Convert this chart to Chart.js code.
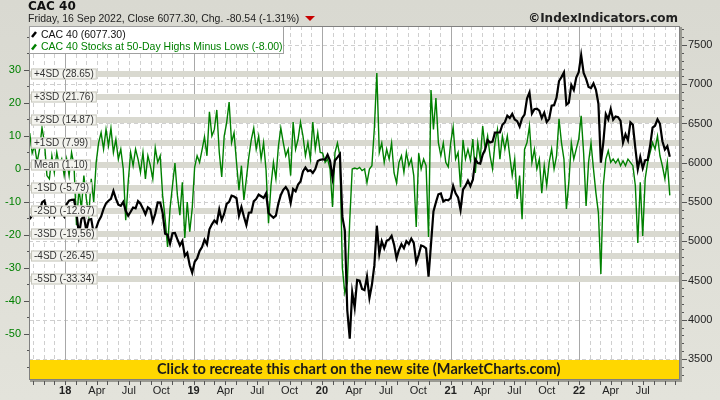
<!DOCTYPE html>
<html><head><meta charset="utf-8">
<script src="https://cdn.jsdelivr.net/npm/chart.js"></script>
<style>
html,body{margin:0;padding:0}
body{width:720px;height:400px;overflow:hidden;position:relative;background:linear-gradient(#d9d9d1,#e3e3db)}
#c{position:absolute;left:0;top:0}
#title{position:absolute;left:28px;top:0;font:bold 12px/12px "DejaVu Sans";color:#111;white-space:nowrap}
#sub{position:absolute;left:28px;top:12.6px;font:10.5px/10.5px "Liberation Sans";color:#222;white-space:nowrap}
#tri{display:inline-block;width:0;height:0;margin-left:6px;border-left:5px solid transparent;border-right:5px solid transparent;border-top:5px solid #c80000;vertical-align:1px}
#copy{position:absolute;right:42px;top:12px;font:bold 12px/12px "DejaVu Sans";color:#222;white-space:nowrap}
</style></head>
<body>
<canvas id="c" width="720" height="400"></canvas>
<div id="title">CAC 40</div>
<div id="sub">Friday, 16 Sep 2022, Close 6077.30, Chg. -80.54 (-1.31%)<span id="tri"></span></div>
<div id="copy">©IndexIndicators.com</div>
<script>
// ---------- DATA (weekly, Fridays, starting 2017-09-22) ----------
const firstWeek = '2017-09-22';
const cacClose = [
 5282,5330, 5360,5360,5370,5494, 5517,5380,5319,5391, 5316,5399,5349,5353,5313,
 5471,5517,5527,5529, 5364,5079,5283,5317, 5136,5275,5282,5095,5167, 5258,5315,5413,5483, 5516,5541,5640,5542, 5465,5450,5501,5387,5324, 5375,5429,5419,5511, 5478,5415,5344,5432,5406, 5252,5352,5494,5493, 5359,5095,5084,4967, 5102,5106,5025,4947,5003, 4813,4853,4694,4600,
 4737,4781,4875,4926, 5019,4961,5153,5215, 5265,5231,5405,5269,5350, 5476,5502,5580,5569, 5548,5327,5438,5316,5208, 5364,5367,5508,5539, 5594,5573,5552,5610, 5359,5327,5300,5326,5480, 5590,5655,5690,5640, 5488,5665,5636,5722, 5762,5889,5939,5893,5905, 5871,5919,6021,6037,
 6044,6037,6101,6024,5806, 6029,6069,6111,5310, 5140,4118,3760,4351, 4154,4507,4499,4393, 4378,4550,4277,4445,4695, 5198,4839,5001,4910, 5007,5022,5069,4957,4784, 4889,4962,4911,5002, 4965,5034,4978,4730, 4824,4947,4935,4909,4550, 4960,5380,5495,5598, 5609,5507,5528,5522,
 5551,5707,5611,5559,5399, 5659,5704,5773,5703, 5783,6046,5997,5989, 6103,6169,6288,6258,6269, 6385,6385,6386,6484, 6516,6600,6569,6622, 6552,6530,6460,6568,6613, 6817,6896,6626,6681, 6689,6663,6570,6638, 6518,6560,6727,6733,6830, 7041,7091,7150,6739, 6765,6991,6927,7086,7153,
 7370,7143,7068,6965, 6951,7011,6929,6752, 6000,6260,6620,6553, 6684,6548,6590,6581,6533, 6258,6362,6285,6516, 6485,6187,5920,6073, 5931,6033,6036,6216,6449, 6472,6553,6496,6274, 6168,6212,6077.30
];
const highsMinusLows = [
 10.9,4.8, 7,2,6,12.5, 8,-2,-3,4, -1,5,1,3,-2,
 3,-2,5,1, -17,-6,-12,-2, -9,-14,-3,-10,2, 8,11,6,12, 7,12.4,5,9, 3,6,0,-15.5,-4, 5,1,6,3, -1,5,-3,4,1, -3,6.4,2,4, -8,-15,-23.6,-12, -5,1.8,-8,-14,-4, -20.9,-10,-19,-12,
 0.6,4,2,5.8, 9.7,4,17.3,10, 12,17.9,5,-2.4,10, 14,20.3,8,11, 2,-6.4,1,-9.4,-3, 3.6,8.8,12.4,6, 10,3,8,-0.3, -16.4,-5,2,-3,6.7, 12.4,8,4,6, -2,14.2,6,9, 14.2,10,4,8,3, 14.2,6,11,5,
 4.8,2,3,0,-11.5, 5,7.9,4,-30, -37.6,-34.5,-15.5,0, 0.3,0,0.5,-0.5, 0,-4.2,0,1,12.4, 29.1,5,7.9,2, 6,3,7.9,-1.2,-4.2, 2,4,-1,5, 1,3,-2,-17.6, 4.8,0,3,1,-20.6, 23.9,12,21.5,8, 4,7.9,2,0.6,
 7.9,12.7,3,5,-5.5, 8.8,3,6,2.7, 9.1,-1.2,8,3, 13,6,10,4,0, 8,12,3,10, 6,10,4,-2, 3,-9.1,-2,-15.2,6, 8,13,2,6, 0,3,-7.3,1, -5,2,6.1,0,4, 15.2,8,3,-12.1, -4,7.9,3,6,9,
 16.1,4.8,-11.2,2, 7.9,0,-7.3,-13.3, -31.8,-5,3,5.5, 2,3,1.8,3,1, 2.5,1,3,2, 1,-5,-22.4,-4, -20.3,-3,2,5,8, 6,10,4,0.9, -3,2,-8
];
const sdValues = [28.65, 21.76, 14.87, 7.99, 1.10, -5.79, -12.67, -19.56, -26.45, -33.34];
const sdNames  = ['+4SD','+3SD','+2SD','+1SD','Mean','-1SD','-2SD','-3SD','-4SD','-5SD'];
const leftTicks  = [30, 20, 10, 0, -10, -20, -30, -40, -50];
const rightTicks = [7500, 7000, 6500, 6000, 5500, 5000, 4500, 4000, 3500];
const monthNames = ['Jan','Feb','Mar','Apr','May','Jun','Jul','Aug','Sep','Oct','Nov','Dec'];
const seriesNames = ['CAC 40', 'CAC 40 Stocks at 50-Day Highs Minus Lows'];
const bannerText = 'Click to recreate this chart on the new site (MarketCharts.com)';

// ---------- helpers ----------
const DAY = 86400000;
const EPOCH = Date.UTC(2018, 0, 1);
const dayOf = (y, m, d) => (Date.UTC(y, m, d) - EPOCH) / DAY;
const fw = firstWeek.split('-').map(Number);
const firstDay = dayOf(fw[0], fw[1] - 1, fw[2]);
const xMin = -103, xMax = 1748;

const cacPts = cacClose.map((v, i) => ({x: firstDay + 7 * i, y: v}));
const hmlPts = highsMinusLows.map((v, i) => ({x: firstDay + 7 * i, y: v}));

const months = [];
for (let y = 2017; y <= 2022; y++) for (let m = 0; m < 12; m++) {
  const d = dayOf(y, m, 1);
  if (d >= xMin && d <= xMax) months.push({d, y, m});
}
const labelTicks = months.filter(o => o.m % 3 === 0 && o.d >= 0 && !(o.y === 2022 && o.m > 6));
const labelOf = {};
labelTicks.forEach(o => labelOf[o.d] = o.m === 0 ? String(o.y).slice(2) : monthNames[o.m]);

function fitSize(ctx, text, family, weight, target) {
  ctx.font = weight + ' 20px ' + family;
  return 20 * target / ctx.measureText(text).width;
}

const decor = {
  id: 'decor',
  beforeDatasetsDraw(chart) {
    const {ctx, chartArea: a, scales} = chart;
    ctx.save();
    ctx.fillStyle = '#ffffff';
    ctx.fillRect(a.left, a.top, a.right - a.left, a.bottom - a.top);
    ctx.lineWidth = 1;
    ctx.strokeStyle = '#cfcfcf';
    ctx.setLineDash([4, 3]);
    rightTicks.forEach(v => {
      const y = Math.round(scales.y1.getPixelForValue(v)) + 0.5;
      ctx.beginPath(); ctx.moveTo(a.left, y); ctx.lineTo(a.right, y); ctx.stroke();
    });
    months.forEach(o => {
      if (o.m === 0) return;
      const x = Math.round(scales.x.getPixelForValue(o.d)) + 0.5;
      ctx.beginPath(); ctx.moveTo(x, a.top); ctx.lineTo(x, a.bottom); ctx.stroke();
    });
    ctx.setLineDash([]);
    ctx.strokeStyle = '#a8a8a8';
    months.forEach(o => {
      if (o.m !== 0) return;
      const x = Math.round(scales.x.getPixelForValue(o.d)) + 0.5;
      ctx.beginPath(); ctx.moveTo(x, a.top); ctx.lineTo(x, a.bottom); ctx.stroke();
    });
    ctx.fillStyle = '#d9d9d0';
    sdValues.forEach(v => {
      const y = scales.y.getPixelForValue(v);
      ctx.fillRect(a.left, Math.round(y) - 3, a.right - a.left, 6);
    });
    ctx.restore();
  },
  afterDatasetsDraw(chart) {
    const {ctx, chartArea: a, scales} = chart;
    ctx.save();
    ctx.font = '10px "Liberation Sans"';
    ctx.textBaseline = 'middle';
    sdValues.forEach((v, i) => {
      const y = Math.round(scales.y.getPixelForValue(v));
      const t = sdNames[i] + ' (' + v.toFixed(2) + ')';
      const w = ctx.measureText(t).width;
      ctx.fillStyle = '#f3f3ee';
      ctx.fillRect(a.left + 2, y - 5.5, w + 6, 11);
      ctx.strokeStyle = '#c6c6bc';
      ctx.lineWidth = 1;
      ctx.strokeRect(a.left + 2.5, y - 5, w + 5, 10);
      ctx.fillStyle = '#333';
      ctx.fillText(t, a.left + 5, y + 0.5);
    });
    const bTop = 360;
    ctx.fillStyle = '#ffd700';
    ctx.fillRect(a.left, bTop, a.right - a.left, a.bottom - bTop);
    const bs = fitSize(ctx, bannerText, 'Lato', 'bold', 404);
    ctx.font = 'bold ' + bs.toFixed(2) + 'px Lato';
    ctx.fillStyle = '#1a1a1a';
    ctx.textAlign = 'left';
    ctx.textBaseline = 'alphabetic';
    ctx.fillText(bannerText, 157, 374);
    ctx.strokeStyle = '#808080';
    ctx.lineWidth = 1;
    ctx.strokeRect(a.left + 0.5, a.top + 0.5, a.right - a.left - 1, a.bottom - a.top);
    ctx.strokeStyle = '#9a9a92';
    ctx.lineWidth = 2;
    ctx.beginPath(); ctx.moveTo(a.right + 1, a.top + 1); ctx.lineTo(a.right + 1, a.bottom + 2); ctx.lineTo(a.left + 1, a.bottom + 2); ctx.stroke();
    ctx.strokeStyle = '#555';
    ctx.lineWidth = 1;
    for (let v = -60; v <= 40; v += 5) {
      const y = Math.round(scales.y.getPixelForValue(v)) + 0.5;
      if (y < a.top || y > a.bottom) continue;
      const major = v % 10 === 0 && v >= -50 && v <= 30;
      ctx.beginPath(); ctx.moveTo(a.left - (major ? 5 : 2), y); ctx.lineTo(a.left, y); ctx.stroke();
    }
    for (let v = 3300; v <= 7700; v += 100) {
      const y = Math.round(scales.y1.getPixelForValue(v)) + 0.5;
      if (y < a.top || y > a.bottom) continue;
      const major = v % 500 === 0 && v >= 3500 && v <= 7500;
      ctx.beginPath(); ctx.moveTo(a.right + 2, y); ctx.lineTo(a.right + (major ? 7 : 4), y); ctx.stroke();
    }
    months.forEach(o => {
      const x = Math.round(scales.x.getPixelForValue(o.d)) + 0.5;
      ctx.beginPath(); ctx.moveTo(x, a.bottom + 2); ctx.lineTo(x, a.bottom + 6); ctx.stroke();
    });
    const lx = a.left, ly = a.top, lw = 254, lh = 27;
    ctx.fillStyle = '#ffffff';
    ctx.fillRect(lx, ly, lw, lh);
    ctx.strokeStyle = '#a0a0a0';
    ctx.lineWidth = 1;
    ctx.strokeRect(lx + 0.5, ly + 0.5, lw, lh);
    const ds = chart.data.datasets;
    ctx.font = '10.5px "Liberation Sans"';
    ctx.textBaseline = 'alphabetic';
    ds.forEach((d, i) => {
      const yy = ly + 11 + i * 12.5;
      ctx.strokeStyle = d.borderColor;
      ctx.lineWidth = 2.5;
      ctx.beginPath(); ctx.moveTo(lx + 3, yy); ctx.lineTo(lx + 7, yy - 5); ctx.stroke();
      ctx.fillStyle = i === 0 ? '#111' : '#008000';
      ctx.fillText(d.label, lx + 12, yy + 0.5);
    });
    ctx.restore();
  }
};

const lastCac = cacClose[cacClose.length - 1];
const lastHml = highsMinusLows[highsMinusLows.length - 1];

new Chart(document.getElementById('c'), {
  type: 'line',
  data: {
    datasets: [
      {label: seriesNames[0] + ' (' + lastCac.toFixed(2) + ')', data: cacPts, yAxisID: 'y1',
       borderColor: '#000000', borderWidth: 2.2, pointRadius: 0, tension: 0},
      {label: seriesNames[1] + ' (' + lastHml.toFixed(2) + ')', data: hmlPts, yAxisID: 'y',
       borderColor: '#008000', borderWidth: 1.4, pointRadius: 0, tension: 0}
    ]
  },
  options: {
    responsive: false, animation: false, devicePixelRatio: 1,
    layout: {padding: {top: 26, left: 0, right: 0, bottom: 0}},
    plugins: {legend: {display: false}, tooltip: {enabled: false}},
    scales: {
      x: {
        type: 'linear', position: 'bottom', min: xMin, max: xMax,
        grid: {display: false, drawTicks: false}, border: {display: false},
        afterBuildTicks: s => { s.ticks = labelTicks.map(o => ({value: o.d})); },
        afterFit: s => { s.height = 21; },
        ticks: {
          autoSkip: false, maxRotation: 0, padding: 5, color: '#222',
          callback: v => labelOf[v] || '',
          font: c => ({family: 'Liberation Sans', size: 11, weight: (labelOf[c.tick && c.tick.value] || '').match(/^\d/) ? 'bold' : 'normal'})
        }
      },
      y: {
        position: 'left', min: -63.64, max: 43.33,
        grid: {display: false, drawTicks: false}, border: {display: false},
        afterBuildTicks: s => { s.ticks = leftTicks.map(v => ({value: v})); },
        afterFit: s => { s.width = 29; },
        ticks: {padding: 8, color: '#008000', font: {family: 'Liberation Sans', size: 11}, callback: v => String(v)}
      },
      y1: {
        position: 'right', min: 3245, max: 7742,
        grid: {display: false, drawTicks: false}, border: {display: false},
        afterBuildTicks: s => { s.ticks = rightTicks.map(v => ({value: v})); },
        afterFit: s => { s.width = 40; },
        ticks: {padding: 8, color: '#222', font: {family: 'Liberation Sans', size: 11}, callback: v => String(v)}
      }
    }
  },
  plugins: [decor]
});
</script>
</body></html>
